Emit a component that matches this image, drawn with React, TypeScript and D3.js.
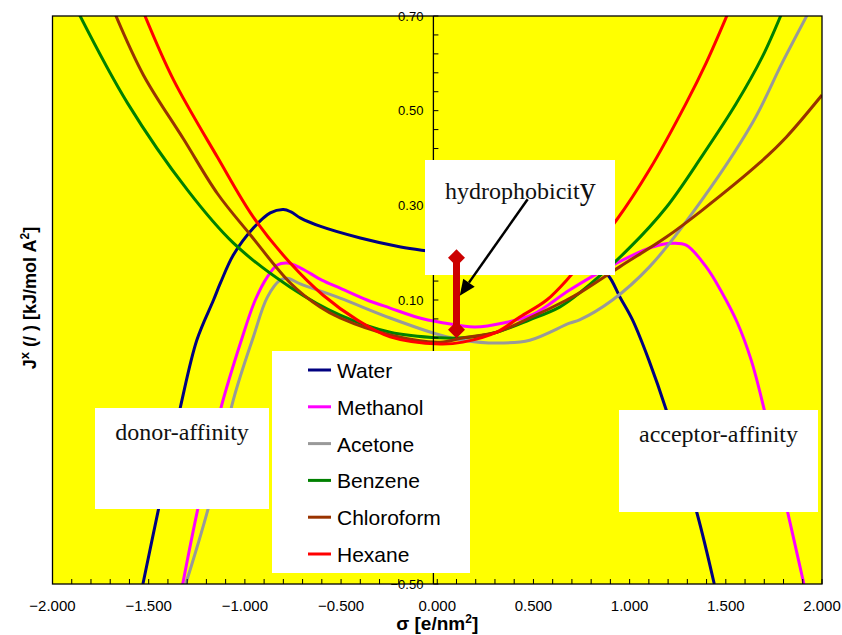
import * as d3 from 'd3'
import React from 'react'

// sigma-profiles: [sigma e/nm2, potential kJ/mol A2]
const water = [
  [-1.53, -0.5], [-1.45, -0.344], [-1.335, -0.126], [-1.25, 0.015], [-1.163, 0.1], [-1.127, 0.136],
  [-1.06, 0.195], [-0.956, 0.252], [-0.868, 0.284], [-0.8, 0.291], [-0.76, 0.286], [-0.71, 0.273],
  [-0.61, 0.256], [-0.4, 0.231], [-0.19, 0.212], [-0.06, 0.204], [0.1, 0.196], [0.3, 0.19],
  [0.5, 0.182], [0.7, 0.172], [0.85, 0.16], [0.89, 0.151], [0.95, 0.106], [1.015, 0.058],
  [1.1, -0.027], [1.19, -0.132], [1.35, -0.35], [1.44, -0.5],
]
const methanol = [
  [-1.324, -0.502], [-1.246, -0.344], [-1.127, -0.132], [-1.023, 0.009], [-0.946, 0.1], [-0.883, 0.149],
  [-0.831, 0.174], [-0.779, 0.178], [-0.712, 0.168], [-0.6, 0.142], [-0.505, 0.125], [-0.365, 0.1],
  [-0.245, 0.083], [-0.1, 0.063], [0.014, 0.053], [0.196, 0.043], [0.35, 0.052], [0.5, 0.07],
  [0.688, 0.121], [0.895, 0.17], [1.118, 0.212], [1.222, 0.22], [1.294, 0.216], [1.398, 0.17],
  [1.481, 0.115], [1.559, 0.053], [1.632, -0.027], [1.7, -0.132], [1.813, -0.333], [1.907, -0.502],
]
const acetone = [
  [-1.309, -0.502], [-1.179, -0.323], [-1.06, -0.111], [-0.956, 0.022], [-0.883, 0.106], [-0.816, 0.142],
  [-0.779, 0.146], [-0.712, 0.134], [-0.505, 0.104], [-0.245, 0.062], [0.014, 0.026], [0.133, 0.015],
  [0.309, 0.009], [0.481, 0.015], [0.688, 0.051], [0.74, 0.058], [0.911, 0.1], [1.103, 0.17],
  [1.327, 0.284], [1.638, 0.474], [1.793, 0.601], [1.923, 0.702],
]
const benzene = [
  [-1.859, 0.702], [-1.61, 0.516], [-1.298, 0.332], [-1.059, 0.22], [-0.764, 0.127], [-0.505, 0.068],
  [-0.245, 0.032], [0.014, 0.02], [0.133, 0.02], [0.309, 0.032], [0.481, 0.058], [0.636, 0.085],
  [0.74, 0.115], [0.999, 0.21], [1.191, 0.296], [1.378, 0.405], [1.554, 0.515], [1.689, 0.613],
  [1.787, 0.702],
]
const chloroform = [
  [-1.672, 0.702], [-1.527, 0.575], [-1.319, 0.44], [-1.143, 0.325], [-0.972, 0.238], [-0.764, 0.136],
  [-0.609, 0.085], [-0.505, 0.062], [-0.245, 0.026], [0.014, 0.011], [0.133, 0.02], [0.309, 0.032],
  [0.481, 0.062], [0.673, 0.1], [0.74, 0.115], [0.948, 0.17], [1.191, 0.233], [1.378, 0.29],
  [1.674, 0.389], [1.814, 0.444], [2.0, 0.533],
]
const hexane = [
  [-1.521, 0.702], [-1.371, 0.565], [-1.143, 0.402], [-0.956, 0.275], [-0.764, 0.178], [-0.593, 0.11],
  [-0.417, 0.058], [-0.245, 0.022], [0.014, 0.007], [0.133, 0.011], [0.309, 0.032], [0.429, 0.064],
  [0.569, 0.1], [0.688, 0.149], [0.932, 0.269], [1.103, 0.375], [1.294, 0.516], [1.398, 0.601],
  [1.507, 0.702],
]

const names = ['Water', 'Methanol', 'Acetone', 'Benzene', 'Chloroform', 'Hexane']
const series = [water, methanol, acetone, benzene, chloroform, hexane]
const colors = ['#000080', '#FF00FF', '#999999', '#008000', '#993300', '#FF0000']

const xTickLabels = [-2, -1.5, -1, -0.5, 0, 0.5, 1, 1.5, 2]
// -0.10 and -0.30 sit behind the legend in the original
const yTickLabels = [0.7, 0.5, 0.3, 0.1, -0.5]
const yAxisAt = -0.02

// hydrophobicity marker (sigma, low, high) and arrow (from -> to)
const hydroMark = [0.1, 0.037, 0.189]
const arrowFrom = [0.47, 0.313]
const arrowTo = [0.117, 0.109]

const W = 842
const H = 635
const left = 52.5
const right = 822
const top = 16
const bottom = 584

const sans = '"Liberation Sans", Arial, sans-serif'
const serif = '"Liberation Serif", "Times New Roman", serif'

export default function App() {
  const x = d3.scaleLinear().domain([-2, 2]).range([left, right])
  const y = d3.scaleLinear().domain([-0.5, 0.7]).range([bottom, top])

  const line = d3.line<number[]>()
    .x(d => x(d[0]))
    .y(d => y(d[1]))
    .curve(d3.curveCatmullRom.alpha(0.5))

  const xMinor = d3.range(0, 41).map(i => -2 + i * 0.1)
  const yMinor = d3.range(0, 31).map(i => -0.5 + i * 0.04)
  const ax = x(yAxisAt)

  // marker geometry
  const mx = x(hydroMark[0])
  const my1 = y(hydroMark[1])
  const my2 = y(hydroMark[2])
  const diamond = (cy: number) => `M${mx},${cy - 8.5}L${mx + 8.5},${cy}L${mx},${cy + 8.5}L${mx - 8.5},${cy}Z`

  const ax1 = x(arrowFrom[0]), ay1 = y(arrowFrom[1])
  const ax2 = x(arrowTo[0]), ay2 = y(arrowTo[1])
  const ang = Math.atan2(ay2 - ay1, ax2 - ax1)
  const hl = 16, hw = 7
  const bx = ax2 - hl * Math.cos(ang), by = ay2 - hl * Math.sin(ang)
  const head = `M${ax2},${ay2}L${bx + hw * Math.sin(ang)},${by - hw * Math.cos(ang)}L${bx - hw * Math.sin(ang)},${by + hw * Math.cos(ang)}Z`

  return (
    <svg width={W} height={H} style={{ position: 'absolute', left: 0, top: 0, background: '#fff' }}>
      <defs>
        <clipPath id="plot">
          <rect x={left} y={top} width={right - left} height={bottom - top} />
        </clipPath>
      </defs>
      <rect x={left} y={top} width={right - left} height={bottom - top} fill="#FFFF00" />

      <g clipPath="url(#plot)">
        {series.map((s, i) => (
          <path key={names[i]} d={line(s) || ''} fill="none" stroke={colors[i]} strokeWidth={3} strokeLinejoin="round" />
        ))}
      </g>

      {/* frame */}
      <rect x={left} y={top} width={right - left} height={bottom - top} fill="none" stroke="#000" strokeWidth={1.3} />

      {/* x axis ticks */}
      {xMinor.map(t => (
        <line key={'xt' + t} x1={x(t)} x2={x(t)} y1={bottom} y2={bottom - 5} stroke="#000" strokeWidth={1} />
      ))}
      {xTickLabels.map(t => (
        <text key={'xl' + t} x={x(t)} y={611} textAnchor="middle" fontFamily={sans} fontSize={15} fill="#000">
          {d3.format('.3f')(t)}
        </text>
      ))}

      {/* y axis */}
      <line x1={ax} x2={ax} y1={top} y2={bottom} stroke="#000" strokeWidth={1.3} />
      {yMinor.map(t => (
        <line key={'yt' + t} x1={ax} x2={ax + 5} y1={y(t)} y2={y(t)} stroke="#000" strokeWidth={1} />
      ))}
      {yTickLabels.map(t => (
        <text key={'yl' + t} x={ax - 10} y={y(t) + 4.5} textAnchor="end" fontFamily={sans} fontSize={13} fill="#000">
          {d3.format('.2f')(t)}
        </text>
      ))}

      {/* axis titles */}
      <text x={x(0)} y={630} textAnchor="middle" fontFamily={sans} fontSize={19} fontWeight="bold">
        σ [e/nm<tspan dy={-7} fontSize={12}>2</tspan><tspan dy={7}>]</tspan>
      </text>
      <text transform="translate(36,298) rotate(-90)" textAnchor="middle" fontFamily={sans} fontSize={18} fontWeight="bold">
        J<tspan dy={-7} fontSize={13}>x</tspan><tspan dy={7}> (/ ) [kJ/mol A</tspan><tspan dy={-7} fontSize={12}>2</tspan><tspan dy={7}>]</tspan>
      </text>

      {/* annotation boxes */}
      <rect x={425} y={160} width={190} height={115} fill="#fff" />
      <text x={445} y={199} fontFamily={serif} fontSize={24} fill="#111">
        hydrophobicit<tspan fontSize={32}>y</tspan>
      </text>
      <rect x={95} y={408} width={174} height={101} fill="#fff" />
      <text x={182} y={440} textAnchor="middle" fontFamily={serif} fontSize={24} fill="#111">donor-affinity</text>
      <rect x={619} y={410} width={199} height={102} fill="#fff" />
      <text x={718.5} y={442} textAnchor="middle" fontFamily={serif} fontSize={24} fill="#111">acceptor-affinity</text>

      {/* legend */}
      <rect x={272} y={351} width={198} height={222} fill="#fff" />
      {names.map((n, i) => {
        const ry = 370 + i * 36.8
        return (
          <g key={'lg' + n}>
            <line x1={308} x2={331} y1={ry} y2={ry} stroke={colors[i]} strokeWidth={3} />
            <text x={337} y={ry + 8} fontFamily={sans} fontSize={21} fill="#000">{n}</text>
          </g>
        )
      })}

      {/* hydrophobicity marker and arrow */}
      <line x1={mx} x2={mx} y1={my1} y2={my2} stroke="#CC0000" strokeWidth={7} />
      <path d={diamond(my1)} fill="#CC0000" />
      <path d={diamond(my2)} fill="#CC0000" />
      <line x1={ax1} y1={ay1} x2={bx} y2={by} stroke="#000" strokeWidth={2.5} />
      <path d={head} fill="#000" />
    </svg>
  )
}
